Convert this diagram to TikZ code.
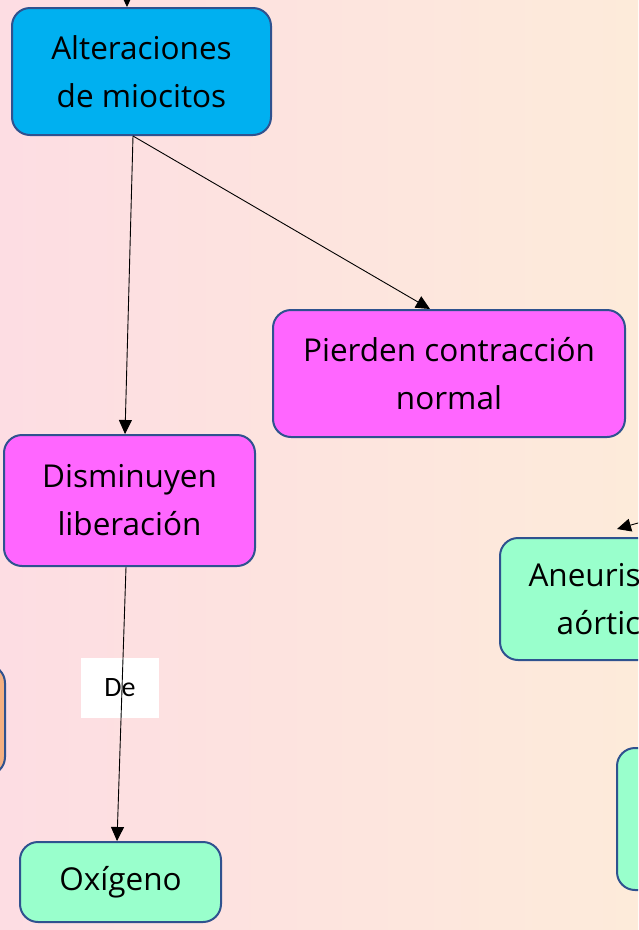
\documentclass[tikz,border=0pt]{standalone}
\usepackage{fontspec}
\setmainfont{Open Sans}
\newfontfamily\labelfont{Carlito}
\usetikzlibrary{arrows.meta,positioning,calc}
\definecolor{bgleft}{HTML}{FDDDE3}
\definecolor{bgright}{HTML}{FDEBDA}
\definecolor{edgeblue}{HTML}{2F528F}
\definecolor{boxcyan}{HTML}{00B0F0}
\definecolor{boxpink}{HTML}{FF66FF}
\definecolor{boxmint}{HTML}{99FFCC}
\definecolor{boxorange}{HTML}{F4B183}
\tikzset{
    concept/.style={draw=edgeblue,line width=2pt,rounded corners=18pt,
        align=center,font=\fontsize{31.5}{48}\selectfont,text=black,inner sep=0pt},
    link/.style={-{Triangle[length=14pt,width=13pt]},line width=0.9pt,black},
    linklabel/.style={fill=white,font=\labelfont\fontsize{28}{30}\selectfont,
        minimum width=78pt,minimum height=60pt,inner sep=0pt}
}
\begin{document}
\begin{tikzpicture}[x=1pt,y=-1pt]
    \useasboundingbox (0,0) rectangle (638,930);
    \clip (0,0) rectangle (638,930);
    \shade[left color=bgleft,right color=bgright] (0,0) rectangle (638,930);
    % partly visible boxes at the edges
    \draw[draw=edgeblue,line width=2pt,fill=boxorange,rounded corners=18pt] (-120,665) rectangle (5,775);
    \draw[draw=edgeblue,line width=2pt,fill=boxmint,rounded corners=18pt] (617,748) rectangle (760,890);
    % concepts
    \node[concept,fill=boxcyan,minimum width=259pt,minimum height=127pt] (alt) at (141.5,71.5) {Alteraciones\\de miocitos};
    \node[concept,fill=boxpink,minimum width=352pt,minimum height=127pt] (pierden) at (449,373.5) {Pierden contracción\\normal};
    \node[concept,fill=boxpink,minimum width=251pt,minimum height=131pt] (dism) at (129.5,500.5) {Disminuyen\\liberación};
    \node[concept,fill=boxmint,minimum width=216pt,minimum height=122pt] (aneu) at (608,599) {Aneurisma\\aórtico};
    \node[concept,fill=boxmint,minimum width=201pt,minimum height=80pt] (oxi) at (120.5,882) {Oxígeno};
    \node[linklabel] (de) at (120,688) {De};
    % connectors
    \coordinate (top) at (127,-30);
    \coordinate (right) at (680,511);
    \draw[link] (top) -- ([xshift=-14.5pt]alt.north);
    \draw[link] ([xshift=-8.5pt]alt.south) -- ([xshift=-4.5pt]dism.north);
    \draw[link] ([xshift=-8.5pt]alt.south) -- ([xshift=-19pt]pierden.north);
    \draw[link] ([xshift=-3.5pt]dism.south) -- ([xshift=-3.5pt]oxi.north);
    \draw[link] (right) -- ([xshift=9pt,yshift=8pt]aneu.north);
\end{tikzpicture}
\end{document}
